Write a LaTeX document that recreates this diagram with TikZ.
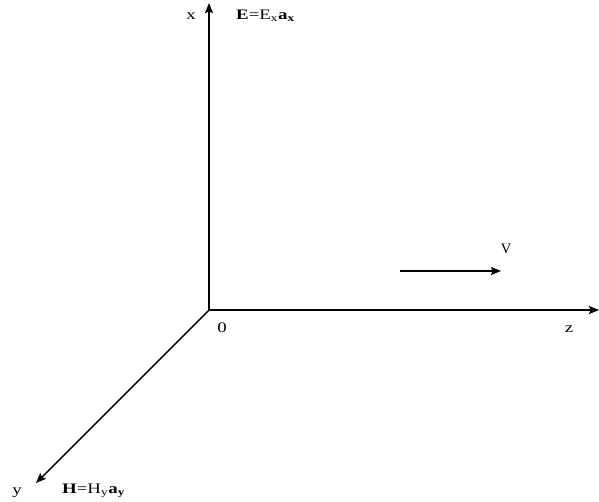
\documentclass[tikz,border=0pt]{standalone}
\usepackage{fontspec}
\setmainfont{Liberation Serif}
\usetikzlibrary{arrows.meta}
\newcommand{\wide}[1]{\scalebox{1.3}[1]{#1}}
\begin{document}
\begin{tikzpicture}[x=1pt,y=-1pt,
  axis/.style={line width=1.4pt,-{Stealth[length=10pt,width=8pt,inset=1.5pt]}},
  lbl/.style={inner sep=0pt,font=\fontsize{14.5}{16}\selectfont}]
\useasboundingbox (0,0) rectangle (599,501);
\coordinate (O) at (209,310);
\coordinate (X) at (209,3);
\coordinate (Z) at (599,310);
\coordinate (Y) at (36,483);
\coordinate (V1) at (400,271);
\coordinate (V2) at (501,271);
\draw[axis] (O) -- (X);
\draw[axis] (O) -- (Z);
\draw[axis] (O) -- (Y);
\draw[axis] (V1) -- (V2);
\node[lbl] (xl) at (191,16) {\wide{x}};
\node[lbl,anchor=west] (El) at (236,16) {\wide{\textbf{E}=E\textsubscript{x}\textbf{a\textsubscript{x}}}};
\node[lbl] (yl) at (17,493) {\wide{y}};
\node[lbl,anchor=west] (Hl) at (62,491) {\wide{\textbf{H}=H\textsubscript{y}\textbf{a\textsubscript{y}}}};
\node[lbl] (vl) at (506,249) {V};
\node[lbl] (ol) at (222,328) {\wide{0}};
\node[lbl] (zl) at (569,329) {\wide{z}};
\end{tikzpicture}
\end{document}
